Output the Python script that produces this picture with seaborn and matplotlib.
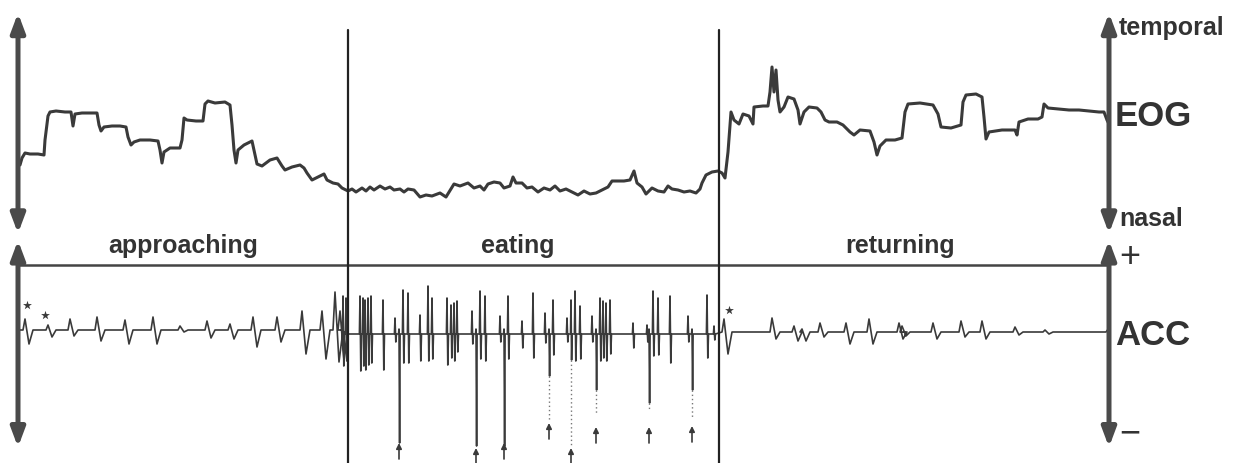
import numpy as np
import pandas as pd
import matplotlib
matplotlib.use("Agg")
import matplotlib.pyplot as plt
import matplotlib.transforms as mtrans
from matplotlib.lines import Line2D
import seaborn as sns

# ------------------------------------------------------------------ data
# time axis in arbitrary sample units, EOG / ACC in arbitrary amplitude units
trace_span = [0, 1091]
phase_names = ["approaching", "eating", "returning"]
phase_bounds = [330, 701]
label_t = [165, 500, 882]
phase_baseline = [1, -3, -1]

eog_t = [0, 2, 4, 7, 12, 20, 26, 27, 30, 32, 38, 47, 53, 55, 57, 64, 72, 79, 81, 83, 86, 94, 102, 108,
         110, 113, 116, 122, 132, 140, 142, 144, 146, 152, 162, 164, 166, 169, 178, 185, 187, 190, 197,
         207, 212, 214, 216, 218, 220, 226, 234, 236, 239, 244, 252, 259, 264, 267, 274, 282, 286, 289,
         294, 300, 306, 309, 315, 320, 324, 330,
         334, 338, 344, 348, 352, 356, 362, 367, 372, 376, 382, 386, 390, 396, 402, 408, 414, 422, 428,
         436, 442, 450, 456, 462, 466, 470, 476, 482, 486, 492, 495, 498, 504, 509, 514, 520, 526, 532,
         537, 542, 548, 554, 560, 566, 572, 578, 584, 590, 594, 600, 606, 612, 616, 619, 624, 628, 634,
         640, 646, 650, 654, 660, 666, 672, 678, 682, 684, 688, 694, 700, 704, 707,
         710, 713, 716, 721, 725, 731, 735, 736, 745, 750, 752, 754, 756, 758, 760, 762, 766, 770, 776,
         780, 782, 786, 791, 799, 803, 807, 811, 819, 825, 832, 836, 842, 852, 856, 859, 862, 868, 877,
         884, 887, 890, 902, 915, 920, 923, 933, 943, 945, 948, 958, 964, 966, 968, 971, 984, 997, 999,
         1001, 1010, 1020, 1024, 1026, 1030, 1040, 1051, 1061, 1071, 1081, 1086, 1089, 1091]
eog_v = [37, 35, 42, 47, 46, 46, 45, 60, 84, 88, 89, 88, 88, 74, 86, 87, 87, 87, 75, 69, 73, 74, 74, 73,
         63, 55, 58, 60, 60, 59, 50, 37, 48, 52, 52, 60, 82, 80, 79, 79, 96, 99, 97,
         98, 95, 75, 50, 37, 50, 55, 59, 50, 36, 34, 40, 42, 34, 30, 33, 35, 32, 27,
         20, 23, 26, 20, 17, 16, 12, 9,
         11, 8, 12, 9, 13, 10, 14, 11, 13, 10, 11, 8, 11, 10, 3, 5, 4, 7, 3,
         16, 14, 17, 12, 14, 10, 16, 18, 17, 12, 14, 23, 17, 17, 12, 13, 8, 12, 10,
         14, 9, 11, 8, 5, 9, 6, 7, 10, 13, 19, 19, 19, 20, 29, 17, 13, 6, 12,
         9, 8, 14, 11, 10, 8, 9, 7, 11, 17, 25, 28, 29, 27, 22,
         48, 88, 80, 76, 86, 84, 76, 93, 94, 94, 108, 133, 108, 130, 100, 88, 93, 103, 101,
         90, 76, 88, 93, 92, 88, 80, 78, 78, 75, 68, 65, 70, 69, 58, 45, 54, 60, 60,
         62, 88, 96, 97, 95, 86, 73, 72, 75, 98, 105, 106, 103, 83, 61, 68, 70, 70, 65,
         78, 81, 81, 83, 96, 92, 91, 90, 90, 89, 88, 88, 80, 76]

# ACC: heartbeat-like complexes (peak above / trough below baseline)
acc_appr_t = [7, 30, 52, 79, 107, 135, 162, 189, 212, 235, 259, 284, 304, 317, 322]
acc_appr_up = [11, 5, 11, 13, 10, 13, 4, 9, 6, 13, 13, 19, 19, 38, 19]
acc_appr_down = [-14, -7, -6, -11, -14, -14, -2, -8, -9, -17, -12, -24, -29, -32, -31]

acc_eat_t = [325, 328, 342, 345, 347, 350, 353, 365, 377, 385, 390, 402, 410, 414, 429, 433, 436, 439,
             454, 462, 467, 482, 490, 504, 515, 527, 535, 549, 557, 562, 574, 582, 585, 588, 592, 615,
             629, 635, 640, 652, 670, 689, 696]
acc_eat_up = [38, 36, 38, 36, 34, 36, 38, 34, 16, 44, 41, 19, 48, 36, 36, 29, 31, 33,
              23, 43, 38, 18, 38, 13, 41, 21, 34, 16, 43, 28, 18, 36, 33, 31, 34, 11,
              9, 43, 36, 38, 18, 39, 8]
acc_eat_down = [-32, -27, -37, -32, -36, -31, -29, -36, -8, -29, -29, -27, -27, -25, -31, -24, -27, -18,
                -10, -25, -27, -8, -25, -14, -24, -9, -21, -8, -27, -25, -8, -27, -24, -27, -20, -14,
                -8, -22, -21, -29, -8, -24, -6]

# bites (large downward deflections, marked by arrows)
bite_t = [381, 458, 486, 531, 553, 578, 631, 674]
bite_up = [5, 5, 5, 5, 34, 5, 5, 5]
bite_solid = [-109, -112, -112, -42, -26, -56, -69, -56]
bite_end = [-109, -112, -112, -86, -112, -79, -76, -84]
bite_arrow = [-112, -117, -112, -92, -117, -96, -96, -95]

acc_ret_t = [706, 754, 776, 784, 802, 828, 851, 881, 884, 915, 943, 964, 997, 1027]
acc_ret_up = [13, 14, 6, 3, 9, 9, 13, 9, 6, 9, 11, 11, 5, 2]
acc_ret_down = [-22, -7, -9, -9, -5, -12, -12, -7, -4, -7, -5, -7, -3, -2]
acc_end_rise = 4

star_t = [9, 27, 711]
star_v = [26, 16, 21]

# ------------------------------------------------------------------ helpers
def build_acc():
    events = []
    for t, u, d in zip(acc_appr_t, acc_appr_up, acc_appr_down):
        events.append((t, u, d, (2.0, 4.0, 4.0), phase_baseline[0]))
    for t, u, d in zip(acc_eat_t, acc_eat_up, acc_eat_down):
        events.append((t, u, d, (0.6, 0.8, 0.7), phase_baseline[1]))
    for t, u, d in zip(bite_t, bite_up, bite_solid):
        events.append((t, u, d, (0.5, 0.6, 0.5), phase_baseline[1]))
    for t, u, d in zip(acc_ret_t, acc_ret_up, acc_ret_down):
        events.append((t, u, d, (2.0, 4.0, 4.0), phase_baseline[2]))
    events.sort(key=lambda e: e[0])
    xs = [trace_span[0] + 2]
    ys = [phase_baseline[0]]
    for t, u, d, (a, b, c), base in events:
        xs += [t - a, t, t + b, t + b + c]
        ys += [base, base + u, base + d, base]
    xs += [trace_span[1] - 3, trace_span[1]]
    ys += [phase_baseline[2], phase_baseline[2] + acc_end_rise]
    return pd.DataFrame({"t": xs, "acc": ys})


# ------------------------------------------------------------------ figure
sns.set_theme(style="white")
plt.rcParams["font.family"] = ["Liberation Sans", "DejaVu Sans"]

W, H = 1235, 463
fig = plt.figure(figsize=(W / 100, H / 100), dpi=100)
fig.patch.set_facecolor("white")
split = (H - 237) / H
ax_eog = fig.add_axes([0, split, 1, 1 - split])
ax_acc = fig.add_axes([0, 0, 1, split])
for ax in (ax_eog, ax_acc):
    ax.set_axis_off()
    ax.set_xlim(-18, 1217)
ax_eog.set_ylim(-37, 200)
ax_acc.set_ylim(-132, 94)

ink = "#3a3a3a"

eog_df = pd.DataFrame({"t": eog_t, "eog": eog_v})
sns.lineplot(data=eog_df, x="t", y="eog", ax=ax_eog, sort=False, estimator=None,
             color=ink, lw=2.2)

acc_df = build_acc()
sns.lineplot(data=acc_df, x="t", y="acc", ax=ax_acc, sort=False, estimator=None,
             color=ink, lw=1.2)

# dotted continuation of faint bite traces
for t, s, e in zip(bite_t, bite_solid, bite_end):
    if e < s:
        ax_acc.plot([t, t], [s + phase_baseline[1], e + phase_baseline[1]], ls=(0, (1, 2)),
                    color="#777777", lw=1.0)
# arrows marking bites
for t, tip in zip(bite_t, bite_arrow):
    ax_acc.annotate("", xy=(t, tip), xytext=(t, tip - 16),
                    arrowprops=dict(arrowstyle="-|>", color=ink, lw=1.2,
                                    mutation_scale=8, shrinkA=0, shrinkB=0))
# stars
ax_acc.scatter(star_t, star_v, marker="*", s=45, color=ink, zorder=3, linewidths=0)

# axis arrows (left and right)
arrow_kw = dict(arrowstyle="<|-|>,head_width=0.3,head_length=0.8", color="#4a4a4a", lw=3.6,
                mutation_scale=14, shrinkA=0, shrinkB=0)
for ax, (y0, y1) in ((ax_eog, (0.015, 0.945)), (ax_acc, (0.07, 0.985))):
    tr = mtrans.blended_transform_factory(ax.transData, ax.transAxes)
    for tx in trace_span:
        ax.annotate("", xy=(tx, y1), xytext=(tx, y0), xycoords=tr, textcoords=tr,
                    arrowprops=arrow_kw)

# horizontal reference line in ACC panel
tr_acc = mtrans.blended_transform_factory(ax_acc.transData, ax_acc.transAxes)
ax_acc.plot(trace_span, [0.876, 0.876], transform=tr_acc, color="#444444", lw=1.8)

# phase dividers spanning both panels
tr_fig = mtrans.blended_transform_factory(ax_acc.transData, fig.transFigure)
for b in phase_bounds:
    fig.add_artist(Line2D([b, b], [0, 0.935], transform=tr_fig, color="#222222", lw=1.6))

# phase labels
for name, lt in zip(phase_names, label_t):
    fig.text(0, 0.4536, name, transform=tr_fig, ha="center", va="baseline",
             fontsize=18, fontweight="bold", color="#333333").set_x(lt)

# right-hand labels
fig.text(1119 / W, 0.924, "temporal", fontsize=18, fontweight="bold", color="#333333",
         ha="left", va="baseline")
fig.text(1115 / W, 0.749, "EOG", fontsize=25, fontweight="bold", color="#333333",
         ha="left", va="center")
fig.text(1119 / W, 0.512, "nasal", fontsize=18, fontweight="bold", color="#333333",
         ha="left", va="baseline")
fig.text(1119 / W, 0.444, "+", fontsize=26, color="#333333", ha="left", va="center")
fig.text(1115 / W, 0.275, "ACC", fontsize=25, fontweight="bold", color="#333333",
         ha="left", va="center")
fig.text(1119 / W, 0.062, "\u2212", fontsize=26, color="#333333", ha="left", va="center")

fig.savefig("out.png", dpi=100, facecolor="white")
